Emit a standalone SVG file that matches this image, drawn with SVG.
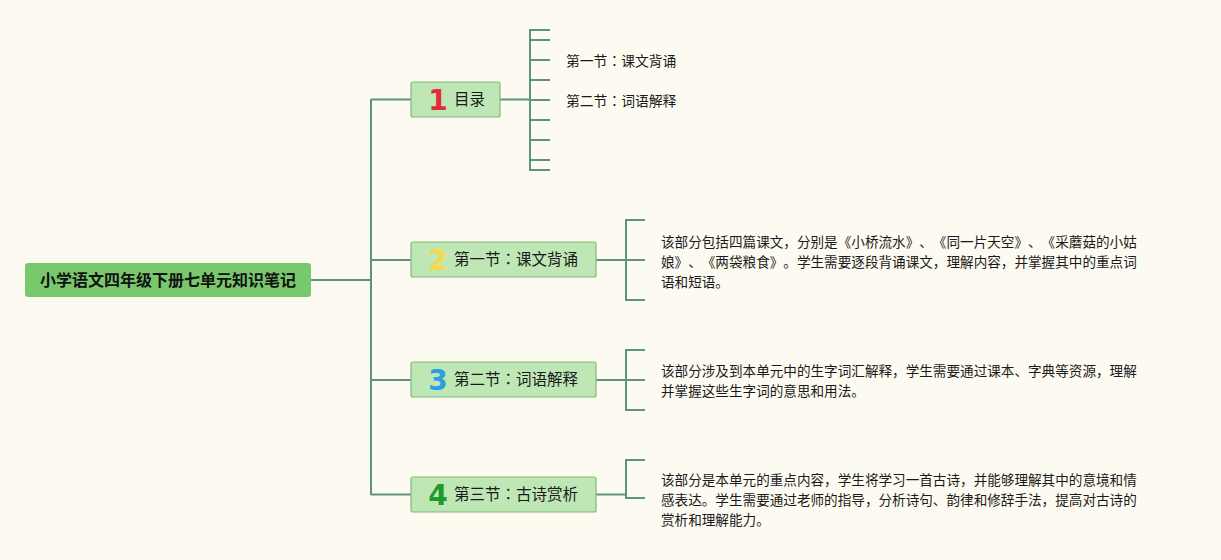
<svg xmlns="http://www.w3.org/2000/svg" width="1221" height="560" viewBox="0 0 1221 560">
<defs>
<style>
text{text-spacing-trim:space-all}
.ln{stroke:#5e9283;stroke-width:2;fill:none}
.box{fill:#bfe7b5;stroke:#7fba72;stroke-width:1.2}
.lab{font-family:"Noto Sans CJK TC","Liberation Sans",sans-serif;font-size:15.5px;fill:#1a1a1a}
.num{font-family:"DejaVu Sans","Liberation Sans",sans-serif;font-weight:bold;font-size:28px}
.txt{font-family:"Noto Sans CJK SC","Liberation Sans",sans-serif;font-size:13.6px;fill:#1a1a1a}
.sm{font-family:"Noto Sans CJK TC","Liberation Sans",sans-serif;font-size:13.8px;fill:#1a1a1a}
</style>
</defs>
<rect width="1221" height="560" fill="#fdfbf1"/>
<g id="connectors">
<path class="ln" d="M311 280H371M371 99V495M371 99.5H411M371 260H411M371 380H411M371 494.5H411"/>
<path class="ln" d="M500 99.5H530M530 29V171M530 30H550M530 40H550M530 60H550M530 80H550M530 100H550M530 120H550M530 140H550M530 160H550M530 170H550"/>
<path class="ln" d="M596 260H626M626 219V301M626 220H645M626 260H645M626 300H645"/>
<path class="ln" d="M596 380H626M626 349V411M626 350H645M626 380H645M626 410H645"/>
<path class="ln" d="M596 494.5H626M626 459V499M626 460H645M626 498H645"/>
</g>
<g id="root">
<rect x="25" y="263" width="286" height="34" rx="3" fill="#78c86c"/>
<text x="168" y="286" text-anchor="middle" font-family="'Noto Sans CJK SC','Liberation Sans',sans-serif" font-size="16" font-weight="bold" fill="#111">小学语文四年级下册七单元知识笔记</text>
</g>
<g id="n1">
<rect class="box" x="411" y="82" width="89" height="35" rx="2"/>
<text class="num" x="438" y="110" text-anchor="middle" fill="#e32b3a">1</text>
<text class="lab" x="454" y="105">目录</text>
</g>
<g id="n1a"><text class="sm" x="566" y="66">第一节：课文背诵</text></g>
<g id="n1b"><text class="sm" x="566" y="106">第二节：词语解释</text></g>
<g id="n2">
<rect class="box" x="411" y="242" width="185" height="35" rx="2"/>
<text class="num" x="438" y="270" text-anchor="middle" fill="#f6d84a">2</text>
<text class="lab" x="454" y="265">第一节：课文背诵</text>
</g>
<g id="n2t">
<text class="txt" x="661" y="247">该部分包括四篇课文，分别是《小桥流水》、《同一片天空》、《采蘑菇的小姑</text>
<text class="txt" x="661" y="267">娘》、《两袋粮食》。学生需要逐段背诵课文，理解内容，并掌握其中的重点词</text>
<text class="txt" x="661" y="287">语和短语。</text>
</g>
<g id="n3">
<rect class="box" x="411" y="362" width="185" height="35" rx="2"/>
<text class="num" x="438" y="390" text-anchor="middle" fill="#2b9de0">3</text>
<text class="lab" x="454" y="385">第二节：词语解释</text>
</g>
<g id="n3t">
<text class="txt" x="661" y="376">该部分涉及到本单元中的生字词汇解释，学生需要通过课本、字典等资源，理解</text>
<text class="txt" x="661" y="396">并掌握这些生字词的意思和用法。</text>
</g>
<g id="n4">
<rect class="box" x="411" y="477" width="185" height="35" rx="2"/>
<text class="num" x="438" y="505" text-anchor="middle" fill="#1f9a2c">4</text>
<text class="lab" x="454" y="500">第三节：古诗赏析</text>
</g>
<g id="n4t">
<text class="txt" x="661" y="485">该部分是本单元的重点内容，学生将学习一首古诗，并能够理解其中的意境和情</text>
<text class="txt" x="661" y="505">感表达。学生需要通过老师的指导，分析诗句、韵律和修辞手法，提高对古诗的</text>
<text class="txt" x="661" y="525">赏析和理解能力。</text>
</g>
</svg>
